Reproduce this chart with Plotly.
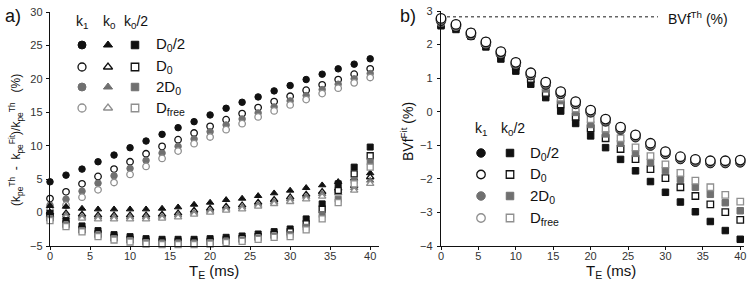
import plotly.graph_objects as go

# ---------------- data ----------------
TE = [0, 2, 4, 6, 8, 10, 12, 14, 16, 18, 20, 22, 24, 26, 28, 30, 32, 34, 36, 38, 40]

# panel a: (k_pe^Th - k_pe^Fit)/k_pe^Th (%)
a_k1_D0half = [4.6, 5.6, 6.5, 7.6, 8.6, 9.7, 10.7, 11.7, 12.7, 13.6, 14.6, 15.6, 16.5, 17.3, 18.2, 19.0, 19.9, 20.7, 21.5, 22.2, 23.0]
a_k1_D0 = [2.1, 3.1, 4.3, 5.4, 6.5, 7.6, 8.8, 9.9, 10.9, 11.9, 12.9, 13.9, 14.8, 15.7, 16.6, 17.4, 18.3, 19.1, 19.9, 20.7, 21.5]
a_k1_2D0 = [1.1, 2.0, 3.2, 4.4, 5.5, 6.6, 7.8, 8.9, 9.9, 11.0, 12.1, 13.1, 14.0, 14.9, 15.8, 16.7, 17.5, 18.4, 19.2, 20.0, 20.8]
a_k1_Dfree = [0.4, 1.1, 2.3, 3.4, 4.5, 5.7, 6.9, 8.1, 9.2, 10.3, 11.3, 12.4, 13.3, 14.3, 15.2, 16.1, 16.9, 17.8, 18.6, 19.4, 20.2]

a_k0_D0half = [1.0, 0.9, 0.6, 0.5, 0.5, 0.5, 0.5, 0.6, 0.8, 1.2, 1.5, 1.9, 2.1, 2.5, 2.9, 3.3, 3.7, 4.1, 4.6, 5.1, 5.9]
a_k0_D0 = [0.0, -0.1, -0.3, -0.4, -0.4, -0.4, -0.4, -0.3, -0.1, 0.3, 0.6, 0.9, 1.1, 1.5, 1.9, 2.3, 2.7, 3.1, 3.6, 4.0, 5.3]
a_k0_2D0 = [-0.3, -0.4, -0.6, -0.7, -0.7, -0.7, -0.7, -0.6, -0.4, 0.0, 0.3, 0.6, 0.8, 1.2, 1.6, 2.0, 2.4, 2.8, 3.3, 3.7, 4.8]
a_k0_Dfree = [-0.6, -0.7, -0.9, -1.0, -1.0, -1.0, -1.0, -0.9, -0.7, -0.3, 0.0, 0.3, 0.5, 0.9, 1.3, 1.6, 2.0, 2.4, 2.9, 3.3, 4.3]

a_k0h_D0half = [-0.1, -1.2, -2.0, -2.7, -3.3, -3.6, -3.9, -4.0, -4.0, -4.0, -3.9, -3.7, -3.5, -3.2, -2.85, -2.45, -0.95, 1.3, 4.3, 6.8, 9.8]
a_k0h_D0 = [-0.7, -1.7, -2.5, -3.2, -3.7, -4.0, -4.3, -4.4, -4.4, -4.4, -4.3, -4.1, -3.9, -3.6, -3.3, -2.9, -1.7, 0.5, 3.3, 5.8, 8.5]
a_k0h_2D0 = [-0.9, -1.9, -2.7, -3.4, -3.9, -4.2, -4.5, -4.6, -4.6, -4.6, -4.5, -4.3, -4.1, -3.8, -3.5, -3.3, -2.2, -0.3, 2.0, 4.8, 7.6]
a_k0h_Dfree = [-1.2, -2.1, -2.9, -3.6, -4.1, -4.4, -4.7, -4.8, -4.8, -4.8, -4.7, -4.5, -4.3, -4.0, -3.7, -3.6, -2.6, -0.95, 1.5, 4.3, 6.8]

# panel b: BVf^Fit (%)
b_k1_D0half = [2.71, 2.53, 2.28, 2.01, 1.72, 1.40, 1.09, 0.81, 0.53, 0.23, -0.02, -0.29, -0.53, -0.76, -1.01, -1.26, -1.41, -1.49, -1.53, -1.53, -1.51]
b_k1_2D0 = [2.74, 2.56, 2.31, 2.04, 1.75, 1.43, 1.12, 0.84, 0.56, 0.26, 0.01, -0.26, -0.50, -0.73, -0.98, -1.23, -1.38, -1.46, -1.50, -1.50, -1.48]
b_k1_Dfree = [2.77, 2.59, 2.34, 2.07, 1.78, 1.46, 1.15, 0.87, 0.59, 0.29, 0.04, -0.23, -0.47, -0.70, -0.95, -1.20, -1.35, -1.43, -1.47, -1.47, -1.45]
b_k1_D0 = [2.78, 2.60, 2.35, 2.08, 1.79, 1.47, 1.16, 0.88, 0.60, 0.30, 0.05, -0.22, -0.46, -0.69, -0.94, -1.19, -1.34, -1.42, -1.46, -1.46, -1.44]

b_k0h_D0half = [2.56, 2.45, 2.25, 1.93, 1.57, 1.21, 0.82, 0.42, 0.02, -0.35, -0.72, -1.07, -1.42, -1.76, -2.08, -2.40, -2.69, -2.98, -3.27, -3.54, -3.80]
b_k0h_D0 = [2.62, 2.52, 2.30, 2.02, 1.70, 1.35, 0.98, 0.56, 0.22, -0.15, -0.50, -0.79, -1.11, -1.41, -1.71, -1.98, -2.25, -2.51, -2.76, -2.99, -3.22]
b_k0h_2D0 = [2.66, 2.55, 2.33, 2.06, 1.75, 1.42, 1.07, 0.68, 0.33, -0.02, -0.38, -0.66, -0.94, -1.24, -1.50, -1.75, -2.01, -2.25, -2.46, -2.71, -2.95]
b_k0h_Dfree = [2.70, 2.58, 2.36, 2.09, 1.79, 1.47, 1.13, 0.76, 0.42, 0.10, -0.22, -0.50, -0.79, -1.06, -1.32, -1.57, -1.82, -2.05, -2.25, -2.48, -2.68]

BVF_TH = 2.83
BVF_TH_TE = [0, 29]

a_yticks = [-5, 0, 5, 10, 15, 20, 25, 30]
b_yticks = [-4, -3, -2, -1, 0, 1, 2, 3]
xticks = [0, 5, 10, 15, 20, 25, 30, 35, 40]

series_names = ["D<sub>0</sub>/2", "D<sub>0</sub>", "2D<sub>0</sub>", "D<sub>free</sub>"]

# ---------------- layout helpers ----------------
W, H = 754, 282
FONT = "Liberation Sans, Arial, sans-serif"
BLACK = "#111111"
GRAY_FILL = "#707070"
GRAY_LINE = "#8f8f8f"


def fx(p):
    return p / W


def fy(p):
    return 1 - p / H


STYLES = [
    dict(color=BLACK, line=dict(color=BLACK, width=1)),
    dict(color="white", line=dict(color=BLACK, width=1.3)),
    dict(color=GRAY_FILL, line=dict(color=GRAY_FILL, width=1)),
    dict(color="white", line=dict(color=GRAY_LINE, width=1.3)),
]

fig = go.Figure()


def add(x, y, style_idx, symbol, size, xa, ya):
    st = STYLES[style_idx]
    fig.add_trace(go.Scatter(
        x=x, y=y, mode="markers", xaxis=xa, yaxis=ya, cliponaxis=False,
        showlegend=False, hoverinfo="skip",
        marker=dict(symbol=symbol, size=size, color=st["color"], line=st["line"]),
    ))


# panel a
for i, s in enumerate([a_k1_D0half, a_k1_D0, a_k1_2D0, a_k1_Dfree]):
    add(TE, s, i, "circle", 6.5, "x", "y")
for i, s in enumerate([a_k0_D0half, a_k0_D0, a_k0_2D0, a_k0_Dfree]):
    add(TE, s, i, "triangle-up", 6.5, "x", "y")
for i, s in enumerate([a_k0h_D0half, a_k0h_D0, a_k0h_2D0, a_k0h_Dfree]):
    add(TE, s, i, "square", 6, "x", "y")

# panel b
fig.add_trace(go.Scatter(
    x=BVF_TH_TE, y=[BVF_TH, BVF_TH], mode="lines", xaxis="x2", yaxis="y2",
    line=dict(color="#666666", width=1.5, dash="dot"), showlegend=False, hoverinfo="skip",
))
for i, s in enumerate([b_k0h_D0half, b_k0h_D0, b_k0h_2D0, b_k0h_Dfree]):
    add(TE, s, i, "square", 6.5, "x2", "y2")
for i, s in [(0, b_k1_D0half), (2, b_k1_2D0), (3, b_k1_Dfree), (1, b_k1_D0)]:
    add(TE, s, i, "circle", 9.5, "x2", "y2")

# legend keys on an overlay axis measured in pixels
LEG_A_COLS = [82, 108, 135]
LEG_A_ROWS = [45, 67, 87, 108]
LEG_B_COLS = [481, 510]
LEG_B_ROWS = [153, 174.5, 196, 218]
for r, yy in enumerate(LEG_A_ROWS):
    for c, (xx, sym) in enumerate(zip(LEG_A_COLS, ["circle", "triangle-up", "square"])):
        add([xx], [yy], r, sym, 8 if sym != "square" else 7.5, "x3", "y3")
for r, yy in enumerate(LEG_B_ROWS):
    for c, (xx, sym) in enumerate(zip(LEG_B_COLS, ["circle", "square"])):
        add([xx], [yy], r, sym, 8.5 if sym == "circle" else 7.5, "x3", "y3")

axis_common = dict(
    showline=True, linecolor=BLACK, linewidth=1.2, ticks="outside", ticklen=3,
    tickcolor=BLACK, tickwidth=1, showgrid=False, zeroline=False, automargin=False,
    tickfont=dict(family=FONT, size=11, color="#333333"),
)

fig.update_layout(
    template="none",
    width=W, height=H, margin=dict(l=0, r=0, t=0, b=0, pad=0, autoexpand=False),
    paper_bgcolor="white", plot_bgcolor="rgba(0,0,0,0)",
    xaxis=dict(axis_common, domain=[fx(50), fx(379)], range=[0, 41.1],
               tickvals=xticks, anchor="y", ticklabelstandoff=-3),
    yaxis=dict(axis_common, domain=[fy(246), fy(12)], range=[-5, 30],
               tickvals=a_yticks, anchor="x", ticklabelstandoff=1),
    xaxis2=dict(axis_common, domain=[fx(441), fx(744)], range=[0, 40.5],
                tickvals=xticks, anchor="y2", ticklabelstandoff=-3),
    yaxis2=dict(axis_common, domain=[fy(246), fy(11)], range=[-4, 3],
                tickvals=b_yticks, anchor="x2", ticklabelstandoff=2),
    xaxis3=dict(domain=[0, 1], range=[0, W], visible=False, anchor="y3",
                fixedrange=True, automargin=False),
    yaxis3=dict(domain=[0, 1], range=[H, 0], visible=False, anchor="x3",
                fixedrange=True, automargin=False),
)

ann = []


def text(t, x, y, size, xanchor="center", angle=0, color="#111111"):
    ann.append(dict(text=t, x=fx(x), y=fy(y), xref="paper", yref="paper",
                    showarrow=False, xanchor=xanchor, yanchor="middle",
                    textangle=angle, font=dict(family=FONT, size=size, color=color)))


text("a)", 13, 16, 18)
text("b)", 408, 16, 18)

# legend a
text("k<sub>1</sub>", 82, 22, 14)
text("k<sub>0</sub>", 109, 22, 14)
text("k<sub>0</sub>/2", 136, 22, 14)
for r, yy in enumerate(LEG_A_ROWS):
    text(series_names[r], 154, yy, 15, xanchor="left")

# legend b
text("k<sub>1</sub>", 481, 129, 14)
text("k<sub>0</sub>/2", 513, 129, 14)
for r, yy in enumerate(LEG_B_ROWS):
    text(series_names[r], 528, yy, 15, xanchor="left")

text("BVf<sup>Th</sup> (%)", 666, 18, 14, xanchor="left")

text("T<sub>E</sub> (ms)", 214, 271, 15)
text("T<sub>E</sub> (ms)", 611, 271, 15)

text("(k<sub>pe</sub><sup>Th</sup> \u00a0-\u00a0 k<sub>pe</sub><sup>Fit</sup>)/k<sub>pe</sub><sup>Th</sup>\u00a0\u00a0\u00a0(%)",
     16, 140, 12, angle=-90)
text("BVf<sup>Fit</sup> (%)", 407, 132, 14, angle=-90)

fig.update_layout(annotations=ann)
fig.write_html(
    "out.html",
    config={"displayModeBar": False, "staticPlot": True},
    post_script="document.body.style.margin='0';document.body.style.overflow='hidden';",
)
